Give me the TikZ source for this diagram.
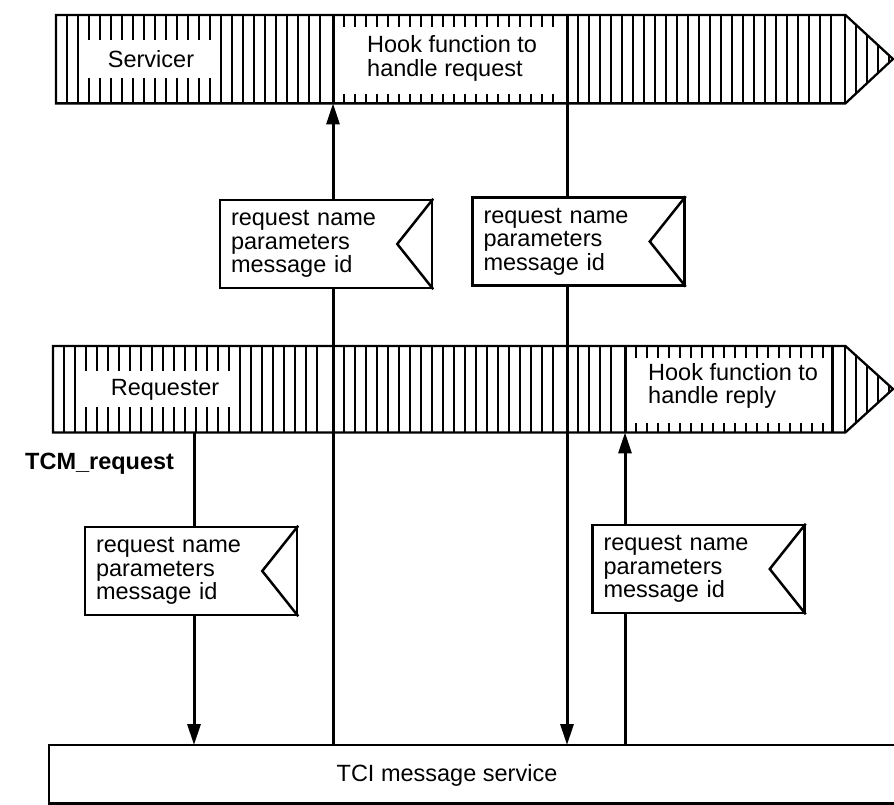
\documentclass[tikz,border=0pt]{standalone}
\usepackage{fontspec}
\setmainfont{Liberation Sans}
\usetikzlibrary{arrows.meta}
\newcommand\msgsize{\fontsize{23.5pt}{23.5pt}\selectfont}
\begin{document}
\begin{tikzpicture}[x=1pt,y=-1pt,
  bandline/.style={line width=2.3pt, line join=miter},
  hatch/.style={line width=1.7pt},
  heavy/.style={line width=3pt},
  conn/.style={line width=3pt, -{Triangle[length=21pt,width=13pt]}},
  flag/.style={draw, fill=white, line width=2.5pt, text width=190pt, align=left,
    inner xsep=11pt, inner ysep=0pt, minimum height=88pt, font=\msgsize},
  notch/.style={line width=2.5pt, line join=miter},
  lbl/.style={font=\msgsize, inner sep=0pt},
  region/.style={inner sep=0pt, anchor=north west}]
\useasboundingbox (0,0) rectangle (894,805);
\fill[white] (0,0) rectangle (894,805);

% ---------- named positions ----------
\node[region, minimum width=789pt, minimum height=88pt] (servband) at (56,15) {};
\node[region, minimum width=792pt, minimum height=86pt] (reqband) at (53,346) {};
\node[region, minimum width=845pt, minimum height=58pt] (tci) at (49,745) {};
\coordinate (stip) at (893,59);
\coordinate (rtip) at (893,389);
\coordinate (xa) at (194,0);
\coordinate (xb) at (333,0);
\coordinate (xc) at (567,0);
\coordinate (xd) at (625,0);
\coordinate (xe) at (832,0);

% ---------- Servicer band ----------
\foreach \x in {67,78,221,232,243,254,265,276,287,298,309,320,578,589,...,831,845}
  \draw[hatch] (\x,15) -- (\x,103);
\foreach \x in {89,100,...,210}
  {\draw[hatch] (\x,15) -- (\x,40); \draw[hatch] (\x,78) -- (\x,103);}
\foreach \x in {344,355,...,553}
  {\draw[hatch] (\x,15) -- (\x,27); \draw[hatch] (\x,94) -- (\x,103);}
\foreach \x in {856,867,878,889}
  \draw[hatch] (\x,{59-44*(893-\x)/48}) -- (\x,{59+44*(893-\x)/48});
\draw[bandline] (servband.north west) -- (servband.north east) -- (stip)
  -- (servband.south east) -- (servband.south west) -- cycle;
\draw[heavy] (servband.north -| xb) -- (servband.south -| xb);
\node[lbl] (servtxt) at (151,59) {Servicer};
\node[lbl, anchor=west, align=left] (shook) at (367,58.5) {Hook function to\\handle request};

% ---------- Requester band ----------
\foreach \x in {64,75,240,251,...,317,344,355,...,553,578,589,600,611,845}
  \draw[hatch] (\x,346) -- (\x,432);
\foreach \x in {86,97,...,229}
  {\draw[hatch] (\x,346) -- (\x,371); \draw[hatch] (\x,407) -- (\x,432);}
\foreach \x in {636,647,...,823}
  {\draw[hatch] (\x,346) -- (\x,358); \draw[hatch] (\x,423) -- (\x,432);}
\foreach \x in {856,867,878,889}
  \draw[hatch] (\x,{389-43*(893-\x)/48}) -- (\x,{389+43*(893-\x)/48});
\draw[bandline] (reqband.north west) -- (reqband.north east) -- (rtip)
  -- (reqband.south east) -- (reqband.south west) -- cycle;
\draw[heavy] (reqband.north -| xd) -- (reqband.south -| xd);
\draw[heavy] (reqband.north -| xe) -- (reqband.south -| xe);
\node[lbl] (reqtxt) at (165,390) {Requester};
\node[lbl, anchor=west, align=left] (rhook) at (648,386) {Hook function to\\handle reply};
\node[lbl, anchor=west, font=\msgsize\bfseries] (tcm) at (25,464) {TCM\_request};

% ---------- TCI message service ----------
\draw[line width=2.5pt] (tci.north east) -- (tci.north west) -- (tci.south west) -- (tci.south east);
\node[lbl] (tcitxt) at (447,775) {TCI message service};

% ---------- connectors ----------
\draw[conn] (reqband.south -| xa) -- (tci.north -| xa);
\draw[conn] (tci.north -| xb) -- (servband.south -| xb);
\draw[conn] (servband.north -| xc) -- (tci.north -| xc);
\draw[conn] (tci.north -| xd) -- (reqband.south -| xd);

% ---------- message flags ----------
\node[flag] (f1) at (326,244) {request name\\parameters\\message id};
\draw[notch] (f1.north east) -- ([xshift=-36pt]f1.east) -- (f1.south east);
\node[flag] (f2) at (578.5,241.5) {request name\\parameters\\message id};
\draw[notch] (f2.north east) -- ([xshift=-36pt]f2.east) -- (f2.south east);
\node[flag] (f3) at (191,571) {request name\\parameters\\message id};
\draw[notch] (f3.north east) -- ([xshift=-36pt]f3.east) -- (f3.south east);
\node[flag] (f4) at (698.5,569) {request name\\parameters\\message id};
\draw[notch] (f4.north east) -- ([xshift=-36pt]f4.east) -- (f4.south east);
\end{tikzpicture}
\end{document}
